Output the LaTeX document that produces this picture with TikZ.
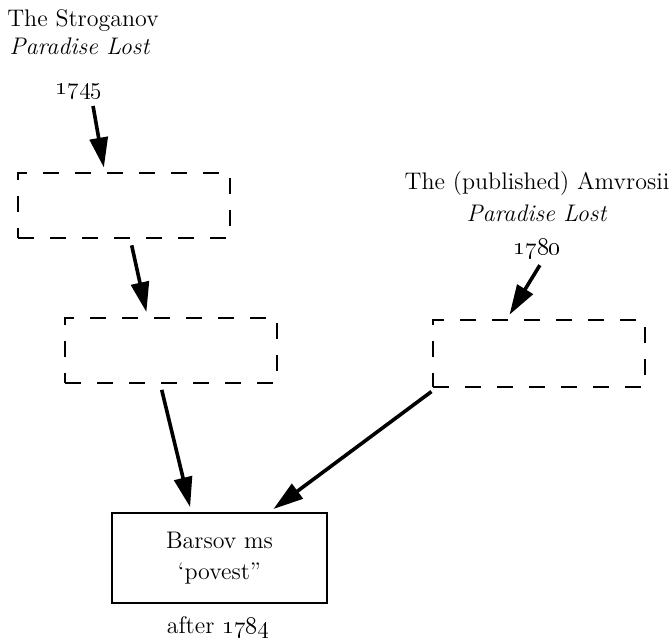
\documentclass[tikz,border=0pt]{standalone}
\usepackage{tikz}
\usetikzlibrary{positioning,calc,arrows.meta}

\tikzset{
  lost/.style={draw, dash pattern=on 8pt off 8pt, line width=1pt,
    minimum width=106pt, minimum height=32.5pt, inner sep=0pt},
  msbox/.style={draw, line width=1pt, minimum width=107.5pt,
    minimum height=45pt, align=center, inner sep=0pt},
  label/.style={inner sep=0pt, anchor=base},
  flow/.style={line width=1.8pt, -{Triangle[length=15pt,width=9pt]},
    shorten <=3pt, shorten >=2.5pt}
}

\begin{document}
\begin{tikzpicture}[x=0.5pt, y=-0.5pt, font=\fontsize{12}{15.5}\selectfont]
		\useasboundingbox (0,0) rectangle (670,641);

		% texte oben links
		\node[label] (strog) at (83,27) {The Stroganov};
		\node[label] (strogpl) at (80,55) {\textit{Paradise Lost}};
		\node[label] (y1745) at (79,95) {\oldstylenums{1745}};
		% texte oben rechts
		\node[label] (amvr) at (537,190) {The (published) Amvrosii};
		\node[label] (amvrpl) at (537,222) {\textit{Paradise Lost}};
		\node[label] (y1780) at (537,255) {\oldstylenums{1780}};

		% die kaesten
		\node[lost] (boxa) at (124,206) {};
		\node[lost] (boxb) at (171,350.5) {};
		\node[lost, minimum height=33.5pt] (boxc) at (539,353.5) {};
		\node[msbox] (barsov) at (219.5,558) {Barsov ms\\ `povest''};
		\node[label] (after) at (218,634) {after \oldstylenums{1784}};

		% pfeile
		\draw[flow] ($(y1745.south)+(13,0)$) -- ($(boxa.north west)!0.41!(boxa.north east)$);
		\draw[flow] ($(boxa.south west)!0.53!(boxa.south east)$) -- ($(boxb.north west)!0.39!(boxb.north east)$);
		\draw[flow] ($(boxb.south west)!0.45!(boxb.south east)$) -- ($(barsov.north west)!0.37!(barsov.north east)$);
		\draw[flow] ($(y1780.south)+(6,0)$) -- ($(boxc.north west)!0.35!(boxc.north east)$);
		\draw[flow] ($(boxc.south west)!0.02!(boxc.south east)$) -- ($(barsov.north west)!0.73!(barsov.north east)$);
	\end{tikzpicture}
\end{document}
